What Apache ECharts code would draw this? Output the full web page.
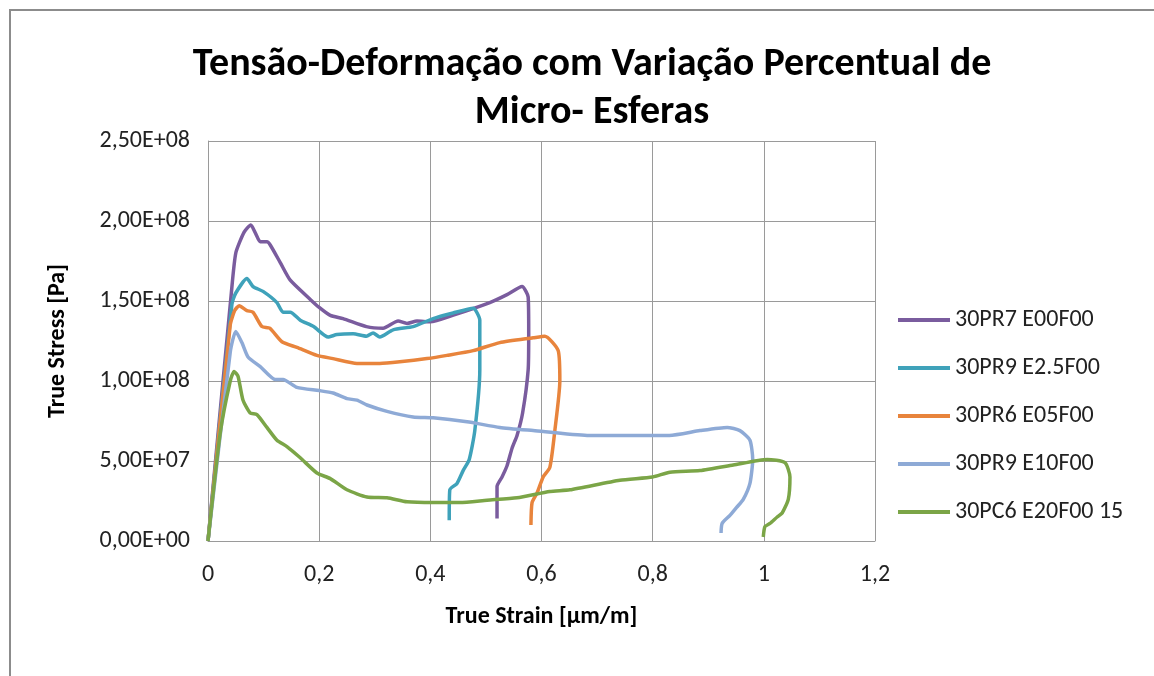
<!DOCTYPE html>
<html>
<head>
<meta charset="utf-8">
<script src="https://cdn.jsdelivr.net/npm/echarts@6/dist/echarts.min.js"></script>
<style>
  html, body { margin: 0; padding: 0; background: #fff; }
  #chart { width: 1154px; height: 676px; }
  .frame { position: absolute; left: 9px; top: 9px; width: 1160px; height: 700px;
           border-left: 2px solid #8c8c8c; border-top: 2px solid #8c8c8c; pointer-events: none; }
</style>
</head>
<body>
<div id="chart"></div>
<div class="frame"></div>
<script>
// curvas tensão-deformação: [true strain, true stress (Pa)]
var seriesNames = ["30PR7 E00F00", "30PR9 E2.5F00", "30PR6 E05F00", "30PR9 E10F00", "30PC6 E20F00 15"];

var pr7E00 = [
  [0, 0], [0.042, 1.55e8], [0.05, 1.8e8], [0.065, 1.93e8], [0.077, 1.975e8], [0.086, 1.92e8],
  [0.094, 1.87e8], [0.106, 1.87e8], [0.112, 1.85e8], [0.13, 1.74e8], [0.148, 1.63e8],
  [0.184, 1.51e8], [0.2, 1.46e8], [0.22, 1.41e8], [0.243, 1.39e8], [0.285, 1.34e8],
  [0.315, 1.33e8], [0.342, 1.375e8], [0.358, 1.36e8], [0.376, 1.375e8], [0.4, 1.37e8],
  [0.44, 1.41e8], [0.507, 1.49e8], [0.538, 1.54e8], [0.565, 1.59e8], [0.576, 1.525e8],
  [0.577, 1.3e8], [0.576, 1.07e8], [0.566, 0.8e8], [0.556, 0.66e8], [0.547, 0.58e8],
  [0.538, 0.47e8], [0.529, 0.4e8], [0.52, 0.34e8], [0.52, 0.14e8]
];

var pr9E25 = [
  [0, 0], [0.043, 1.48e8], [0.05, 1.55e8], [0.07, 1.64e8], [0.081, 1.59e8], [0.099, 1.56e8],
  [0.124, 1.49e8], [0.135, 1.43e8], [0.148, 1.43e8], [0.166, 1.38e8], [0.19, 1.34e8],
  [0.216, 1.275e8], [0.232, 1.29e8], [0.261, 1.295e8], [0.285, 1.28e8], [0.297, 1.3e8],
  [0.309, 1.275e8], [0.333, 1.32e8], [0.369, 1.34e8], [0.405, 1.39e8], [0.441, 1.425e8],
  [0.477, 1.455e8], [0.489, 1.38e8], [0.489, 1.07e8], [0.48, 0.69e8], [0.47, 0.51e8],
  [0.459, 0.44e8], [0.448, 0.36e8], [0.435, 0.32e8], [0.434, 0.13e8]
];

var pr6E05 = [
  [0, 0], [0.04, 1.35e8], [0.048, 1.44e8], [0.056, 1.47e8], [0.07, 1.44e8], [0.081, 1.43e8],
  [0.097, 1.34e8], [0.111, 1.33e8], [0.133, 1.245e8], [0.16, 1.21e8], [0.196, 1.16e8],
  [0.225, 1.14e8], [0.268, 1.11e8], [0.309, 1.11e8], [0.345, 1.12e8], [0.394, 1.14e8],
  [0.43, 1.16e8], [0.477, 1.19e8], [0.525, 1.24e8], [0.585, 1.27e8], [0.606, 1.28e8],
  [0.63, 1.19e8], [0.633, 1.0e8], [0.624, 0.69e8], [0.615, 0.46e8], [0.603, 0.4e8],
  [0.592, 0.3e8], [0.583, 0.24e8], [0.581, 0.1e8]
];

var pr9E10 = [
  [0, 0], [0.04, 1.18e8], [0.05, 1.31e8], [0.061, 1.24e8], [0.072, 1.15e8], [0.094, 1.09e8],
  [0.121, 1.01e8], [0.135, 1.01e8], [0.16, 0.96e8], [0.2, 0.94e8], [0.225, 0.925e8],
  [0.25, 0.89e8], [0.268, 0.88e8], [0.286, 0.85e8], [0.322, 0.81e8], [0.369, 0.775e8],
  [0.405, 0.77e8], [0.466, 0.745e8], [0.525, 0.71e8], [0.585, 0.69e8], [0.682, 0.66e8],
  [0.741, 0.66e8], [0.83, 0.66e8], [0.885, 0.69e8], [0.934, 0.71e8], [0.957, 0.69e8],
  [0.975, 0.63e8], [0.98, 0.51e8], [0.975, 0.36e8], [0.963, 0.26e8], [0.951, 0.21e8],
  [0.939, 0.16e8], [0.925, 0.11e8], [0.923, 0.05e8]
];

var pc6E20 = [
  [0, 0], [0.022, 0.675e8], [0.04, 1.0e8], [0.047, 1.06e8], [0.054, 1.03e8], [0.063, 0.88e8],
  [0.076, 0.8e8], [0.088, 0.79e8], [0.106, 0.71e8], [0.124, 0.63e8], [0.142, 0.59e8],
  [0.166, 0.52e8], [0.196, 0.425e8], [0.22, 0.39e8], [0.25, 0.32e8], [0.286, 0.275e8],
  [0.322, 0.27e8], [0.358, 0.245e8], [0.405, 0.24e8], [0.453, 0.24e8], [0.502, 0.255e8],
  [0.556, 0.27e8], [0.615, 0.31e8], [0.651, 0.32e8], [0.741, 0.38e8], [0.8, 0.4e8],
  [0.831, 0.43e8], [0.885, 0.44e8], [0.945, 0.475e8], [1.006, 0.51e8], [1.038, 0.49e8],
  [1.047, 0.4e8], [1.044, 0.26e8], [1.033, 0.175e8], [1.024, 0.15e8], [1.011, 0.11e8],
  [1.002, 0.09e8], [0.999, 0.025e8]
];

var seriesData = [pr7E00, pr9E25, pr6E05, pr9E10, pc6E20];
var seriesColors = ["#7a5c9e", "#3fa2ba", "#e8843c", "#8eaad6", "#7ba547"];

var baseFont = "Carlito, 'Liberation Sans Narrow', 'Liberation Sans', sans-serif";

function sciLabel(v) {
  // 2.50e+8 -> 2,50E+08
  var s = Number(v).toExponential(2).split("e");
  var exp = parseInt(s[1], 10);
  var sign = exp < 0 ? "-" : "+";
  var e = Math.abs(exp);
  return s[0].replace(".", ",") + "E" + sign + (e < 10 ? "0" + e : e);
}

var chart = echarts.init(document.getElementById("chart"));

var option = {
  animation: false,
  title: {
    text: "Tensão-Deformação com Variação Percentual de\nMicro- Esferas",
    left: 587,
    top: 36,
    textAlign: "center",
    textStyle: {
      fontFamily: baseFont,
      fontSize: 40,
      fontWeight: "bold",
      color: "#000",
      lineHeight: 48
    }
  },
  legend: {
    orient: "vertical",
    left: 893,
    top: 303,
    itemWidth: 52,
    itemHeight: 4,
    itemGap: 24,
    icon: "rect",
    data: seriesNames,
    textStyle: { fontFamily: baseFont, fontSize: 24, color: "#222", lineHeight: 24 }
  },
  grid: { left: 208, right: 279, top: 141, bottom: 135, containLabel: false },
  xAxis: {
    type: "value",
    min: 0,
    max: 1.2,
    interval: 0.2,
    name: "True Strain [µm/m]",
    nameLocation: "middle",
    nameGap: 64,
    nameTextStyle: { fontFamily: baseFont, fontSize: 24, fontWeight: "bold", color: "#000" },
    axisLine: { lineStyle: { color: "#9a9a9a", width: 1 } },
    axisTick: { show: false },
    splitLine: { show: true, lineStyle: { color: "#9a9a9a", width: 1 } },
    axisLabel: {
      fontFamily: baseFont, fontSize: 24, color: "#222", margin: 22,
      formatter: function (v) { return String(Math.round(v * 10) / 10).replace(".", ","); }
    }
  },
  yAxis: {
    type: "value",
    min: 0,
    max: 2.5e8,
    interval: 0.5e8,
    name: "True Stress [Pa]",
    nameLocation: "middle",
    nameGap: 138,
    nameTextStyle: { fontFamily: baseFont, fontSize: 24, fontWeight: "bold", color: "#000" },
    axisLine: { show: true, lineStyle: { color: "#9a9a9a", width: 1 } },
    axisTick: { show: false },
    splitLine: { show: true, lineStyle: { color: "#9a9a9a", width: 1 } },
    axisLabel: {
      fontFamily: baseFont, fontSize: 24, color: "#222", margin: 18,
      formatter: sciLabel
    }
  },
  series: seriesNames.map(function (name, i) {
    return {
      name: name,
      type: "line",
      data: seriesData[i],
      showSymbol: false,
      smooth: 0.2,
      color: seriesColors[i],
      lineStyle: { width: 3.5, color: seriesColors[i] }
    };
  })
};

chart.setOption(option);
</script>
</body>
</html>
